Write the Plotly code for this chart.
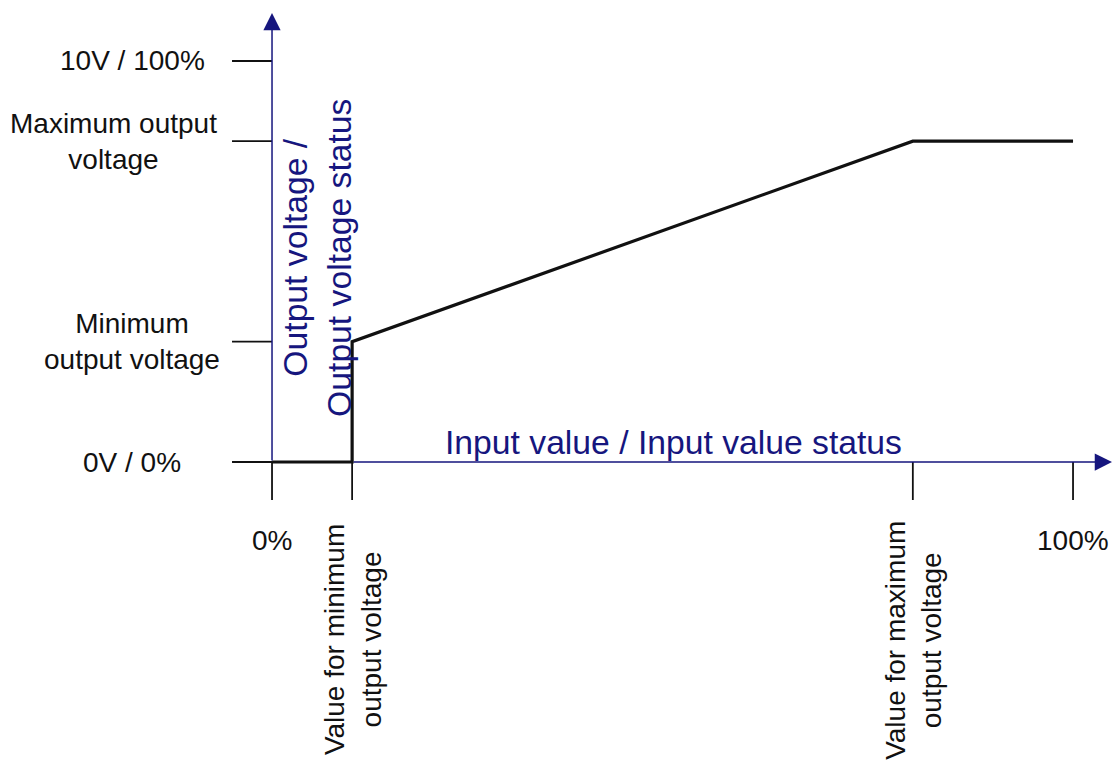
import plotly.graph_objects as go

# ---- data ----
x_pct = [0, 10, 10, 80, 100]
y_pct = [0, 0, 30, 80, 80]

y_tick_vals = [100, 80, 30, 0]
y_tick_labels = ["10V / 100%", "Maximum output<br>voltage", "Minimum<br>output voltage", "0V / 0%"]

x_tick_vals = [0, 10, 80, 100]
x_tick_labels = ["0%", "Value for minimum<br>output voltage", "Value for maximum<br>output voltage", "100%"]

x_title = "Input value / Input value status"
y_title = "Output voltage /<br>Output voltage status"

# ---- layout geometry ----
W, H = 1113, 762
X_RANGE = [-33.96, 104.99]
Y_RANGE = [-74.81, 115.21]


def dx(px):
    return px * (X_RANGE[1] - X_RANGE[0]) / W


def dy(px):
    return px * (Y_RANGE[1] - Y_RANGE[0]) / H


NAVY = "#16167e"
BLACK = "#111111"
FONT = "Liberation Sans, Arial, sans-serif"
TICK_SIZE = 28
TITLE_SIZE = 33.7

fig = go.Figure()

fig.add_trace(go.Scatter(x=x_pct, y=y_pct, mode="lines",
                         line=dict(color=BLACK, width=3.2),
                         hoverinfo="skip", showlegend=False))

shapes = []
# horizontal ticks on the y axis
for v in y_tick_vals:
    shapes.append(dict(type="line", xref="x", yref="y", x0=-dx(40), x1=0, y0=v, y1=v,
                       line=dict(color=BLACK, width=1.8), layer="below"))
# vertical ticks below the x axis
for v in x_tick_vals:
    shapes.append(dict(type="line", xref="x", yref="y", x0=v, x1=v, y0=0, y1=-dy(38),
                       line=dict(color=BLACK, width=1.8), layer="below"))

annotations = []
# axes with arrows
annotations.append(dict(x=0, y=Y_RANGE[1] - dy(13), ax=0, ay=0, xref="x", yref="y",
                        axref="x", ayref="y", text="", showarrow=True, arrowhead=2,
                        arrowsize=2.3, arrowwidth=1.5, arrowcolor=NAVY))
annotations.append(dict(x=X_RANGE[1] - dx(1), y=0, ax=x_tick_vals[1], ay=0, xref="x", yref="y",
                        axref="x", ayref="y", text="", showarrow=True, arrowhead=2,
                        arrowsize=2.3, arrowwidth=1.5, arrowcolor=NAVY))

# y tick labels
y_label_x = [-dx(140), -dx(159), -dx(140), -dx(140)]
for v, t, lx in zip(y_tick_vals, y_tick_labels, y_label_x):
    annotations.append(dict(x=lx, y=v, xref="x", yref="y", text=t, showarrow=False,
                            xanchor="center", yanchor="middle", align="center",
                            font=dict(family=FONT, size=TICK_SIZE, color=BLACK)))

# x tick labels
for v, t in zip(x_tick_vals, x_tick_labels):
    rotated = "<br>" in t
    annotations.append(dict(x=v, y=-dy(178) if rotated else -dy(78), xref="x", yref="y",
                            text=t, showarrow=False, textangle=-90 if rotated else 0,
                            xanchor="center", yanchor="middle", align="center",
                            font=dict(family=FONT, size=TICK_SIZE, color=BLACK)))

# axis titles
annotations.append(dict(x=50.1, y=dy(20), xref="x", yref="y", text=x_title, showarrow=False,
                        xanchor="center", yanchor="middle",
                        font=dict(family=FONT, size=TITLE_SIZE, color=NAVY)))
annotations.append(dict(x=dx(45), y=50.9, xref="x", yref="y", text=y_title, showarrow=False,
                        textangle=-90, xanchor="center", yanchor="middle", align="center",
                        font=dict(family=FONT, size=TITLE_SIZE, color=NAVY)))

fig.update_layout(
    width=W, height=H,
    margin=dict(l=0, r=0, t=0, b=0, pad=0),
    paper_bgcolor="white", plot_bgcolor="white",
    xaxis=dict(range=X_RANGE, visible=False, fixedrange=True),
    yaxis=dict(range=Y_RANGE, visible=False, fixedrange=True),
    shapes=shapes, annotations=annotations,
    showlegend=False,
)

fig.write_html("out.html", config={"displayModeBar": False},
               post_script="document.body.style.margin='0';document.body.style.overflow='hidden';")
